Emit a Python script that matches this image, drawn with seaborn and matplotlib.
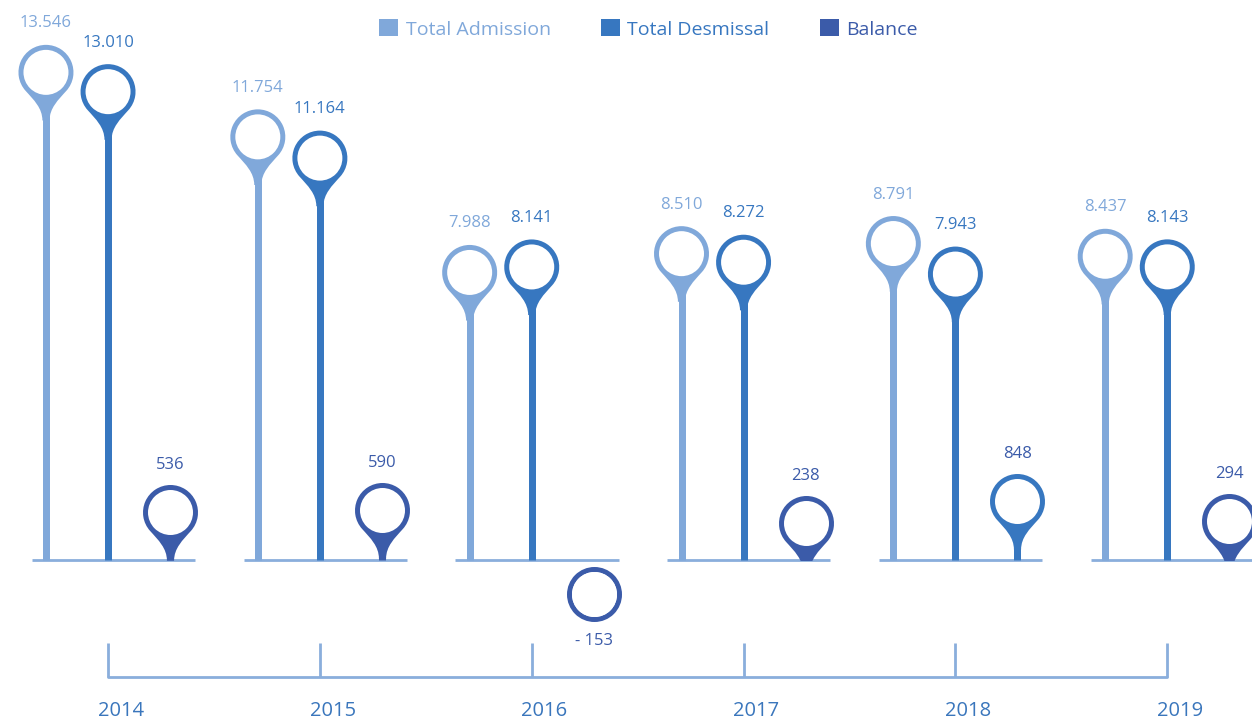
import numpy as np
import pandas as pd
import seaborn as sns
import matplotlib.pyplot as plt
from matplotlib.path import Path
from matplotlib.patches import Patch, Rectangle
from matplotlib import transforms

years = ["2014", "2015", "2016", "2017", "2018", "2019"]
admission = [13546, 11754, 7988, 8510, 8791, 8437]
dismissal = [13010, 11164, 8141, 8272, 7943, 8143]
balance = [536, 590, -153, 238, 848, 294]

series_names = ["Total Admission", "Total Desmissal", "Balance"]
colors = ["#80a8da", "#3777c0", "#3b5ba9"]
balance_pin_colors = ["#3b5ba9", "#3b5ba9", "#3b5ba9", "#3b5ba9", "#3777c0", "#3b5ba9"]
line_color = "#8aaedc"

sns.set_theme(style="white")
plt.rcParams["font.family"] = ["Open Sans", "DejaVu Sans"]

W, H, DPI = 12.52, 7.25, 100
fig = plt.figure(figsize=(W, H), dpi=DPI)
ax = fig.add_axes([0, 0, 1, 1])
ax.set_xlim(-0.51, 5.40)
ax.set_ylim(-4583, 15556)
ax.axis("off")

pt = 72 / DPI  # points per pixel
R_OUT, R_IN, TAIL = 27.5, 22.5, 1.75


def teardrop(L=TAIL, w=0.13):
    a0, a1 = -42, 222
    t0, t1 = np.deg2rad(a0), np.deg2rad(a1)
    p0 = np.array([np.cos(t0), np.sin(t0)])
    p1 = np.array([np.cos(t1), np.sin(t1)])
    c0 = p0 - 0.45 * np.array([-np.sin(t0), np.cos(t0)])
    c1 = p1 + 0.45 * np.array([-np.sin(t1), np.cos(t1)])
    arc = Path.arc(a0, a1)
    verts = [(w, -L), (w, -L + 0.45), tuple(c0), tuple(p0)]
    codes = [Path.MOVETO, Path.CURVE4, Path.CURVE4, Path.CURVE4]
    verts += [tuple(v) for v in arc.vertices[1:]]
    codes += list(arc.codes[1:])
    verts += [tuple(c1), (-w, -L + 0.45), (-w, -L), (w, -L)]
    codes += [Path.CURVE4, Path.CURVE4, Path.CURVE4, Path.CLOSEPOLY]
    return Path(verts, codes)


drop = teardrop()
s_drop = (2 * TAIL * R_OUT * pt) ** 2
s_hole = (2 * R_IN * pt) ** 2

x = np.arange(len(years))
offsets = [-0.293, 0.0, 0.293]

df = pd.DataFrame({
    "x": np.concatenate([x + offsets[0], x + offsets[1]]),
    "value": admission + dismissal,
    "series": [series_names[0]] * len(years) + [series_names[1]] * len(years),
})
pal = dict(zip(series_names, colors))

# baseline segments per year
ax.hlines(np.zeros(len(x)), x - 0.36, x + 0.41, color=line_color, lw=2, zorder=1)

# stems
for name, col in zip(series_names[:2], colors[:2]):
    sub = df[df["series"] == name]
    ax.vlines(sub["x"], 0, sub["value"], color=col, lw=7 * pt, zorder=2)

# pins
sns.scatterplot(data=df, x="x", y="value", hue="series", palette=pal,
                marker=drop, s=s_drop, linewidth=0, edgecolor="none",
                legend=False, ax=ax, zorder=3)
sns.scatterplot(data=df, x="x", y="value", color="white", marker="o",
                s=s_hole, linewidth=0, edgecolor="none", legend=False,
                ax=ax, zorder=4)

for _, row in df.iterrows():
    ax.annotate(f"{row['value']:,}".replace(",", "."), (row["x"], row["value"]),
                xytext=(0, 49 * pt), textcoords="offset points",
                ha="center", va="center", fontsize=12, color=pal[row["series"]])

# balance pins, lifted off the baseline (tails cut at the baseline)
above = Rectangle((-1, 0), 10, 1e6, transform=ax.transData)
shift = R_OUT + 1
for xi, v, pc in zip(x + offsets[2], balance, balance_pin_colors):
    sgn = 1 if v >= 0 else -1
    tr = transforms.offset_copy(ax.transData, fig=fig, x=0, y=sgn * shift, units="dots")
    if v >= 0:
        ax.vlines(xi, 0, v, color=pc, lw=7 * pt, zorder=2)
        pin = ax.scatter([xi], [v], marker=drop, s=s_drop, color=pc, linewidth=0,
                         transform=tr, zorder=3)
        pin.set_clip_path(above)
    else:
        ax.scatter([xi], [v], marker="o", s=(2 * (R_OUT - 2.5) * pt) ** 2,
                   facecolor="white", edgecolor=pc, linewidth=5 * pt,
                   transform=tr, zorder=3)
    ax.scatter([xi], [v], marker="o", s=s_hole, color="white", linewidth=0,
               transform=tr, zorder=4)
    label = f"{v:,}".replace(",", ".") if v >= 0 else f"- {abs(v)}"
    ax.annotate(label, (xi, v), xycoords=tr, xytext=(0, sgn * 47 * pt),
                textcoords="offset points", ha="center", va="center",
                fontsize=12, color=colors[2])

# year bracket
blend = transforms.blended_transform_factory(ax.transData, ax.transAxes)
ax.plot([x[0], x[-1]], [0.066, 0.066], color=line_color, lw=2,
        transform=blend, solid_capstyle="round")
ax.vlines(x, 0.066, 0.113, color=line_color, lw=2, transform=blend)
for xi, yr in zip(x, years):
    ax.text(xi + 0.06, 0.02, yr, transform=blend, ha="center", va="center",
            fontsize=14.5, color="#3a76bc")

handles = [Patch(facecolor=c, edgecolor="none") for c in colors]
leg = fig.legend(handles, series_names, loc="center", bbox_to_anchor=(0.518, 0.96),
                 ncol=3, frameon=False, handlelength=0.95, handleheight=0.95,
                 columnspacing=2.6, handletextpad=0.4, fontsize=14)
for t, c in zip(leg.get_texts(), colors):
    t.set_color(c)

fig.savefig("out.png", dpi=DPI)
